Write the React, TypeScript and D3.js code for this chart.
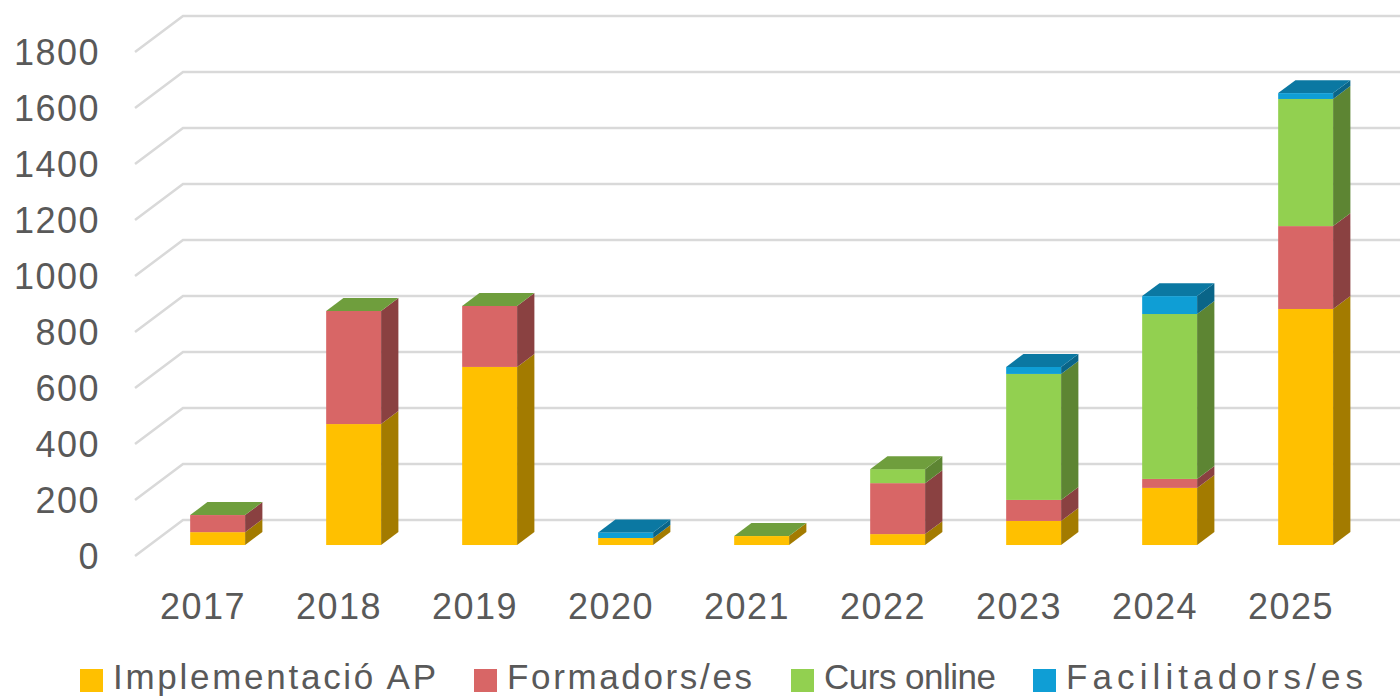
import React from "react";
import * as d3 from "d3";

const years = ["2017", "2018", "2019", "2020", "2021", "2022", "2023", "2024", "2025"];
const seriesNames = ["Implementació AP", "Formadors/es", "Curs online", "Facilitadors/es"];
const implementacio = [46, 432, 636, 25, 32, 39, 86, 204, 843];
const formadors = [61, 404, 218, 0, 0, 182, 75, 32, 296];
const cursOnline = [0, 0, 0, 0, 0, 50, 450, 589, 454];
const facilitadors = [null, null, null, 20, null, null, 25, 64, 21];
const yTicks = [0, 200, 400, 600, 800, 1000, 1200, 1400, 1600, 1800];

const colors = ["#FFC000", "#D86666", "#92D050", "#0F9ED5"];
const legendX = [80, 474, 791, 1033];
const legendW = [323, 245, 172, 297];

const W = 1400;
const H = 697;
const DX = 48; // depth of the back wall
const DY = 36;
const F0 = 0.305; // where the bar front sits in depth
const F1 = 0.665; // where the bar back sits
const FONT = "'Liberation Sans', Arial, sans-serif";
const TEXT = "#595959";

const shade = (c: string, k: number) => {
  const r = d3.rgb(c);
  return d3.rgb(r.r * k, r.g * k, r.b * k).formatHex();
};

const App: React.FC = () => {
  const x = d3.scaleBand().domain(years).range([135, 135 + 136 * 9]).paddingInner(0.596).paddingOuter(0.298);
  const xc = d3.scaleBand().domain(years).range([135, 135 + 136 * 9]);
  const y = d3.scaleLinear().domain([0, 1800]).range([556, 52]);

  const data = [implementacio, formadors, cursOnline, facilitadors];

  const bars = years.map((yr, i) => {
    const bw = x.bandwidth();
    const fx = x(yr)! + DX * F0;
    const sx = DX * (F1 - F0);
    const sy = DY * (F1 - F0);
    const off = DY * F0;
    let acc = 0;
    let top = -1;
    data.forEach((s, k) => {
      if (s[i] !== null) top = k;
    });
    const parts: React.ReactNode[] = [];
    data.forEach((s, k) => {
      const v = s[i];
      if (v === null || v === 0) return;
      const y0 = y(acc) - off;
      const y1 = y(acc + v) - off;
      acc += v;
      parts.push(
        <g key={k}>
          <rect x={fx} y={y1} width={bw} height={y0 - y1} fill={colors[k]} />
          <polygon
            points={`${fx + bw},${y1} ${fx + bw + sx},${y1 - sy} ${fx + bw + sx},${y0 - sy} ${fx + bw},${y0}`}
            fill={shade(colors[k], 0.64)}
          />
        </g>
      );
    });
    if (top >= 0) {
      const yt = y(acc) - off;
      parts.push(
        <polygon
          key="top"
          points={`${fx},${yt} ${fx + sx},${yt - sy} ${fx + bw + sx},${yt - sy} ${fx + bw},${yt}`}
          fill={shade(colors[top], 0.76)}
        />
      );
    }
    return <g key={yr}>{parts}</g>;
  });

  return (
    <svg width={W} height={H} style={{ position: "absolute", left: 0, top: 0, background: "#fff" }} fontFamily={FONT}>
      {yTicks.map((t) => (
        <g key={t}>
          <polyline
            points={`135,${y(t)} ${135 + DX},${y(t) - DY} ${W + 10},${y(t) - DY}`}
            fill="none"
            stroke="#d9d9d9"
            strokeWidth={2.5}
          />
          <text x={100} y={y(t) + 13} textAnchor="end" fontSize={36} fill={TEXT} letterSpacing={1.5}>
            {t}
          </text>
        </g>
      ))}
      {bars}
      {years.map((yr) => (
        <text
          key={yr}
          x={xc(yr)! + xc.bandwidth() / 2}
          y={619}
          textAnchor="middle"
          fontSize={36}
          fill={TEXT}
          letterSpacing={1.5}
        >
          {yr}
        </text>
      ))}
      {seriesNames.map((n, k) => (
        <g key={n}>
          <rect x={legendX[k]} y={669} width={23} height={23} fill={colors[k]} />
          <text
            x={legendX[k] + 33}
            y={689}
            fontSize={35}
            fill={TEXT}
            textLength={legendW[k]}
            lengthAdjust="spacing"
          >
            {n}
          </text>
        </g>
      ))}
    </svg>
  );
};

export default App;
